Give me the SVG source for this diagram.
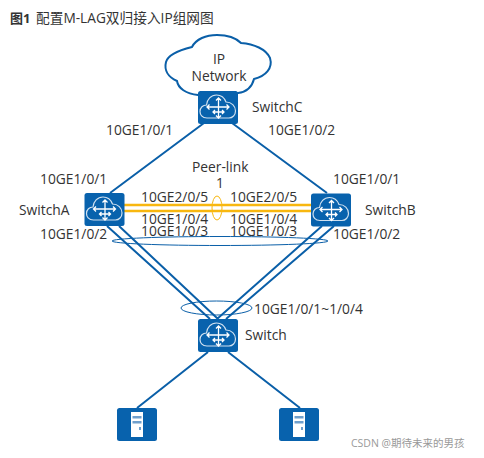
<svg xmlns="http://www.w3.org/2000/svg" width="484" height="458" viewBox="0 0 484 458">
<style>
text{font-family:"Open Sans","Noto Sans","Noto Sans CJK SC",sans-serif;font-size:13.800px;fill:#333}
.l{stroke:#0a5fa8;stroke-width:2;fill:none}
.y{stroke:#f8b70f;stroke-width:2.500;fill:none}
.e{stroke:#0a5fa8;stroke-width:1;fill:none}
.b{fill:#0862ad}
.w{stroke:#cfe0f0;stroke-width:1.200;fill:none}
.a{stroke:#fff;stroke-width:1.300;fill:none}
</style>
<defs>
<g id="sw">
<rect class="b" width="40" height="33" rx="2.500"/>
<path class="w" d="M9 27C4 27 2 23.500 2 20.500C2 16.500 5 14 8.500 14C9 8.500 13 4 18.500 4C23 4 26.500 7 28 11C33.500 11 37.500 15 37.500 20C37.500 24 34.500 27 31 27Z"/>
<path class="a" d="M9 16H31M28.500 13.500L31 16L28.500 18.500M11.500 13.500L9 16L11.500 18.500M20.500 7V27M18 9.500L20.500 7L23 9.500M18 24.500L20.500 27L23 24.500M15 21H26M17 19L15 21L17 23M24 19L26 21L24 23"/>
</g>
<g id="srv">
<rect class="b" width="40" height="33" rx="2.500"/>
<rect x="14" y="4" width="12" height="25" fill="#fff"/>
<rect x="15.500" y="8" width="9" height="2.500" fill="#6f9fcc"/>
<rect x="15.500" y="13" width="9" height="2.500" fill="#6f9fcc"/>
<rect x="22" y="19" width="2" height="3" fill="#6f9fcc"/>
</g>
</defs>
<text x="10" y="23" style="font-size:13px;font-weight:700">图1</text>
<text x="36" y="23" style="font-size:13.700px">配置M-LAG双归接入IP组网图</text>
<g id="connectors">
<path class="l" d="M204 123L110 193M232 123L327 193"/>
<path class="y" d="M124 205H311M124 211H311"/>
<path class="l" d="M107 226L210 319M119 226L218 319M322 226L217 319M334 226L226 319"/>
<path class="l" d="M208 352L137 408M228 352L300 408"/>
<ellipse class="e" cx="220" cy="241" rx="108" ry="4.500"/>
<ellipse class="e" cx="216.500" cy="308" rx="35.500" ry="7"/>
<ellipse cx="217" cy="208" rx="5" ry="12" fill="none" stroke="#f8b70f" stroke-width="1"/>
</g>
<g id="cloud">
<path d="M198 95C186 94 178 88 177 81C168 77 164 70 166 62C168 54 180 50 192 47C196 39 206 35 217 35C228 35 236 38 241 43C254 44 266 49 270 58C273 68 266 76 254 79C252 87 246 92 238 93Z" fill="#fff" stroke="#0a5fa8" stroke-width="2"/>
<text x="219" y="64" text-anchor="middle">IP</text>
<text x="219" y="81" text-anchor="middle">Network</text>
</g>
<g id="switchc"><use href="#sw" x="198" y="91"/><text x="252" y="112">SwitchC</text></g>
<g id="switcha"><use href="#sw" x="84.500" y="193"/><text x="19" y="215">SwitchA</text></g>
<g id="switchb"><use href="#sw" x="311" y="193.500"/><text x="365" y="215">SwitchB</text></g>
<g id="switch"><use href="#sw" x="198" y="319"/><text x="245" y="340">Switch</text></g>
<g id="server1"><use href="#srv" x="117" y="408"/></g>
<g id="server2"><use href="#srv" x="279" y="408"/></g>
<g id="labels">
<text x="106" y="135">10GE1/0/1</text>
<text x="268" y="135">10GE1/0/2</text>
<text x="192" y="172">Peer-link</text>
<text x="216" y="188">1</text>
<text x="40" y="184">10GE1/0/1</text>
<text x="333" y="184">10GE1/0/1</text>
<text x="40" y="239">10GE1/0/2</text>
<text x="333" y="239">10GE1/0/2</text>
<text x="141" y="202">10GE2/0/5</text>
<text x="230" y="202">10GE2/0/5</text>
<text x="141" y="224">10GE1/0/4</text>
<text x="230" y="224">10GE1/0/4</text>
<text x="141" y="236">10GE1/0/3</text>
<text x="230" y="236">10GE1/0/3</text>
<text x="254" y="314">10GE1/0/1~1/0/4</text>
<text x="351" y="447" style="font-size:10.500px;fill:#999">CSDN @期待未来的男孩</text>
</g>
</svg>
